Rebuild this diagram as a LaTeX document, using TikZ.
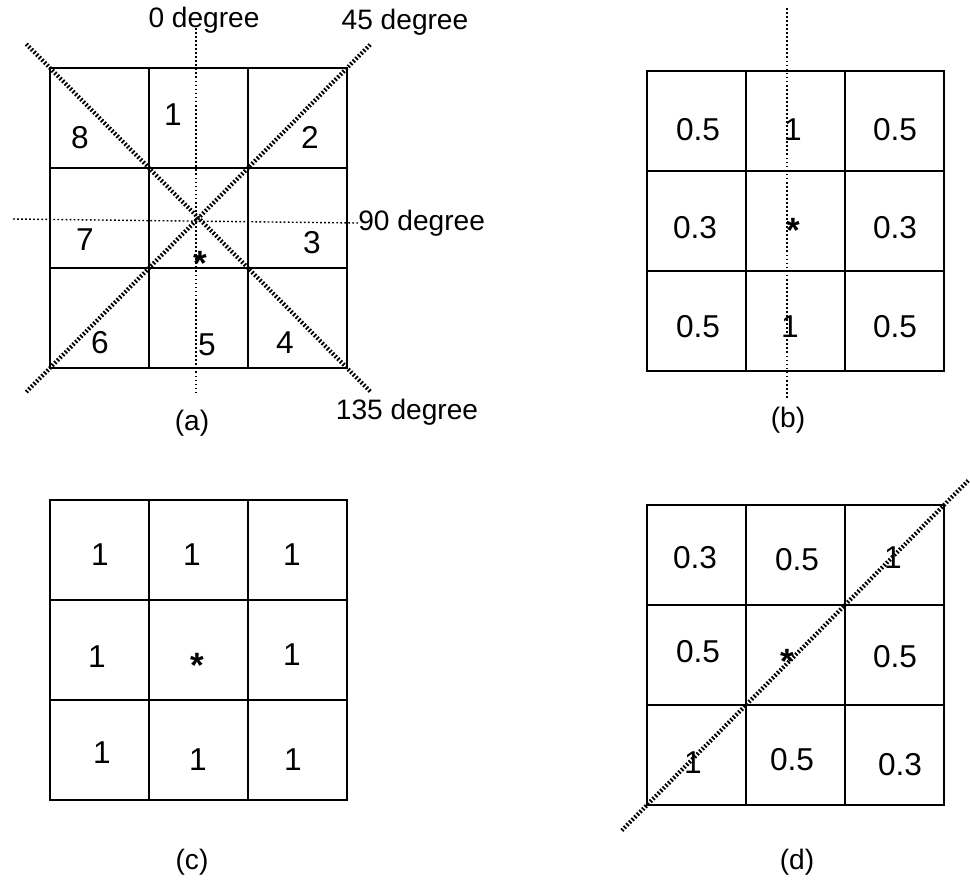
\documentclass[tikz,border=0pt]{standalone}
\usepackage{fontspec}
\setmainfont{Liberation Sans}
\usepackage{tikz}
\usetikzlibrary{calc}
\tikzset{
  cell/.style={draw, line width=1.6pt, minimum width=1.98cm, minimum height=2cm,
               inner sep=0pt, outer sep=0pt},
  val/.style={font=\fontsize{18}{20}\selectfont, inner sep=0pt},
  starmark/.style={font=\fontsize{20}{22}\selectfont\bfseries, inner sep=0pt},
  caption/.style={font=\fontsize{16}{18}\selectfont, inner sep=0pt},
  thindot/.style={line width=0.8pt, dash pattern=on 1pt off 1.3pt},
  hatchline/.style={line width=2.4pt, dash pattern=on 1pt off 1.1pt},
}

\begin{document}
\begin{tikzpicture}[x=0.02cm, y=-0.02cm]
  \useasboundingbox (0,0) rectangle (971,883);
  % the four 3x3 windows
  \foreach \g/\gx/\gy in {a/50/68, b/647/71, c/50/500, d/647/505}{
    \foreach \r in {0,1,2}{
      \foreach \c in {0,1,2}{
        \node[cell] (\g\r\c) at ({\gx+\c*99+49.5},{\gy+\r*100+50}) {};
      }
    }
  }
  % (a) directions
  \node[caption] (a-l0) at (204,20) {0 degree};
  \node[caption] (a-l45) at (405,22) {45 degree};
  \node[caption, anchor=west] (a-l90) at (358,223) {90 degree};
  \node[caption] (a-l135) at (407,412) {135 degree};
  \coordinate (a-top) at (196,28);
  \coordinate (a-bot) at (196,395);
  \coordinate (a-left) at (13,219);
  \draw[thindot] (a-top) -- (a-bot);
  \draw[thindot] (a-left) -- (a-l90.west);
  \draw[hatchline] ($(a00.north west)!-0.08!(a22.south east)$) -- ($(a22.south east)!-0.08!(a00.north west)$);
  \draw[hatchline] ($(a20.south west)!-0.08!(a02.north east)$) -- ($(a02.north east)!-0.08!(a20.south west)$);
  \node[val] (a-n1) at (173,115) {1};
  \node[val] (a-n2) at (310,137) {2};
  \node[val] (a-n3) at (312,243) {3};
  \node[val] (a-n4) at (285,343) {4};
  \node[val] (a-n5) at (207,345) {5};
  \node[val] (a-n6) at (100,343) {6};
  \node[val] (a-n7) at (85,240) {7};
  \node[val] (a-n8) at (80,138) {8};
  \node[starmark] (a-star) at (200,263) {*};
  \node[caption] (a-cap) at (192,423) {(a)};
  % (b) weights
  \coordinate (b-top) at (787,8);
  \coordinate (b-bot) at (787,398);
  \draw[thindot] (b-top) -- (b-bot);
  \node[val] (b-v1) at (698,130) {0.5};
  \node[val] (b-v2) at (793,130) {1};
  \node[val] (b-v3) at (895,130) {0.5};
  \node[val] (b-v4) at (695,228) {0.3};
  \node[starmark] (b-star) at (793,230) {*};
  \node[val] (b-v6) at (895,228) {0.3};
  \node[val] (b-v7) at (698,327) {0.5};
  \node[val] (b-v8) at (790,327) {1};
  \node[val] (b-v9) at (895,327) {0.5};
  \node[caption] (b-cap) at (788,420) {(b)};
  % (c) weights
  \node[val] (c-v1) at (100,555) {1};
  \node[val] (c-v2) at (192,555) {1};
  \node[val] (c-v3) at (292,555) {1};
  \node[val] (c-v4) at (97,657) {1};
  \node[starmark] (c-star) at (197,665) {*};
  \node[val] (c-v6) at (292,655) {1};
  \node[val] (c-v7) at (102,753) {1};
  \node[val] (c-v8) at (198,760) {1};
  \node[val] (c-v9) at (293,760) {1};
  \node[caption] (c-cap) at (192,862) {(c)};
  % (d) weights
  \draw[hatchline] ($(d20.south west)!-0.085!(d02.north east)$) -- ($(d02.north east)!-0.085!(d20.south west)$);
  \node[val] (d-v1) at (695,558) {0.3};
  \node[val] (d-v2) at (797,560) {0.5};
  \node[val] (d-v3) at (893,558) {1};
  \node[val] (d-v4) at (698,652) {0.5};
  \node[starmark] (d-star) at (787,661) {*};
  \node[val] (d-v6) at (895,657) {0.5};
  \node[val] (d-v7) at (693,763) {1};
  \node[val] (d-v8) at (792,760) {0.5};
  \node[val] (d-v9) at (900,765) {0.3};
  \node[caption] (d-cap) at (797,862) {(d)};
\end{tikzpicture}
\end{document}
